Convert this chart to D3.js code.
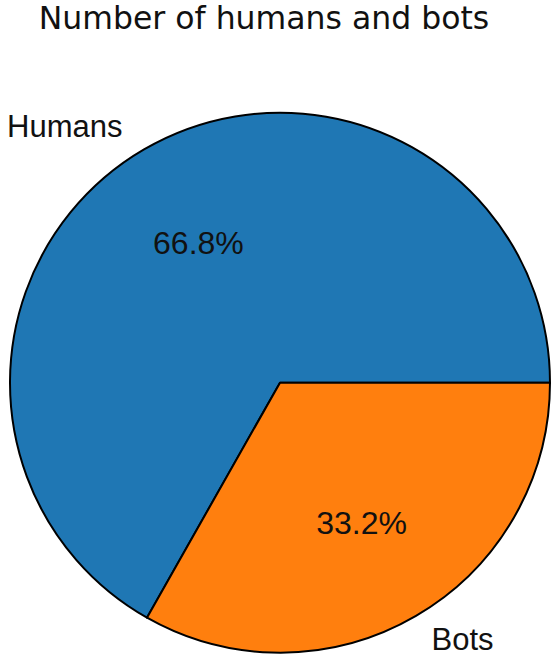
<!DOCTYPE html>
<html>
<head>
<meta charset="utf-8">
<script src="https://cdn.jsdelivr.net/npm/d3@7"></script>
<style>
  body { margin: 0; background: #fff; }
  svg { display: block; font-family: "Liberation Sans", Arial, sans-serif; }
</style>
</head>
<body>
<svg id="chart" width="555" height="659"></svg>
<script>
// pie data
let labels = ["Humans", "Bots"];
let values = [66.8, 33.2];
let colors = ["#1f77b4", "#ff7f0e"];
let title = "Number of humans and bots";

let cx = 280, cy = 382.7, r = 270;

let svg = d3.select("#chart");

svg.append("text")
  .attr("x", 264)
  .attr("y", 29)
  .attr("text-anchor", "middle")
  .attr("font-family", "'DejaVu Sans', sans-serif")
  .attr("font-size", "31.5px")
  .attr("fill", "#111")
  .text(title);

let data = labels.map((d, i) => ({label: d, value: values[i], color: colors[i]}));

// matplotlib style: start at 3 o'clock, go counterclockwise
let pie = d3.pie().value(d => d.value).sort(null)
  .startAngle(Math.PI / 2).endAngle(Math.PI / 2 - 2 * Math.PI);

let arcs = pie(data);
let arc = d3.arc().innerRadius(0).outerRadius(r);

let g = svg.append("g").attr("transform", `translate(${cx},${cy})`);

g.selectAll("path")
  .data(arcs)
  .join("path")
  .attr("d", arc)
  .attr("fill", d => d.data.color)
  .attr("stroke", "#000")
  .attr("stroke-width", 2)
  .attr("stroke-linejoin", "round");

// label positions (mid angle in d3 coords)
let mid = d => (d.startAngle + d.endAngle) / 2;

g.selectAll("text.pct")
  .data(arcs)
  .join("text")
  .attr("class", "pct")
  .attr("x", d => 0.6 * r * Math.sin(mid(d)))
  .attr("y", d => -0.6 * r * Math.cos(mid(d)))
  .attr("text-anchor", "middle")
  .attr("dy", "0.36em")
  .attr("font-size", "32px")
  .attr("fill", "#111")
  .text(d => d.data.value.toFixed(1) + "%");

g.selectAll("text.lbl")
  .data(arcs)
  .join("text")
  .attr("class", "lbl")
  .attr("x", d => 1.1 * r * Math.sin(mid(d)))
  .attr("y", d => -1.1 * r * Math.cos(mid(d)))
  .attr("text-anchor", d => Math.sin(mid(d)) < 0 ? "end" : "start")
  .attr("dx", d => Math.sin(mid(d)) < 0 ? -8 : 2)
  .attr("dy", "0.36em")
  .attr("font-size", "31px")
  .attr("fill", "#111")
  .text(d => d.data.label);
</script>
</body>
</html>
